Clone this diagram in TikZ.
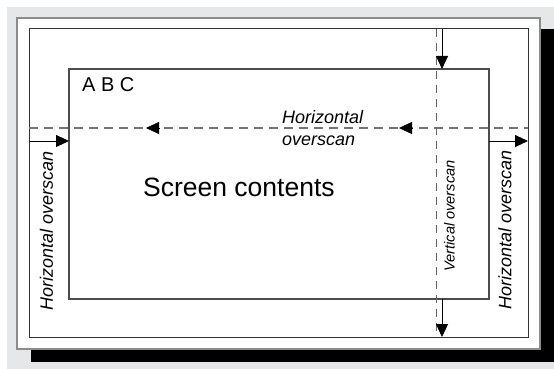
\documentclass[tikz,border=0pt]{standalone}
\usepackage{fontspec}
\setmainfont{Liberation Sans}
\usetikzlibrary{arrows.meta}
\definecolor{bggray}{HTML}{E6E7E8}
\begin{document}
\begin{tikzpicture}[x=1pt,y=-1pt,
  pageframe/.style={draw=black!45, fill=white, line width=1.4pt},
  monframe/.style={draw=black!80, line width=1pt},
  screenbox/.style={draw=black!70, line width=1.1pt},
  dashline/.style={draw=black!55, line width=1.3pt, dash pattern=on 9pt off 6pt},
  vdashline/.style={draw=black!60, line width=1pt, dash pattern=on 8pt off 6pt},
  arr/.style={-{Triangle[length=13pt,width=12pt]}, line width=0.9pt, black},
  midarr/.style={-{Triangle[length=13pt,width=12pt]}, line width=0.5pt, black},
  lbl/.style={font=\fontsize{18}{22}\selectfont\itshape, inner sep=0pt},
  vlbl/.style={font=\fontsize{14.6}{17}\selectfont\itshape, inner sep=0pt}]
\useasboundingbox (0,0) rectangle (554,369);
\fill[bggray] (7,7) rectangle (554,369);
\fill[black] (31,29) rectangle (554,362);
\draw[pageframe] (17,18) rectangle (540,349);
% monitor frame and screen
\coordinate (ftl) at (29,29);
\coordinate (fbr) at (528,337);
\coordinate (stl) at (69,69);
\coordinate (sbr) at (489,299);
\draw[monframe] (ftl) rectangle (fbr);
\draw[screenbox] (stl) rectangle (sbr);
% dashed lines
\coordinate (hdl) at (29,128);
\coordinate (hdr) at (528,128);
\coordinate (vdt) at (436,29);
\coordinate (vdb) at (436,337);
\draw[dashline] (hdl) -- (hdr);
\draw[vdashline] (vdt) -- (vdb);
% arrows on dashed line
\coordinate (ma1s) at (160,128);
\coordinate (ma1e) at (146,128);
\coordinate (ma2s) at (413,128);
\coordinate (ma2e) at (399,128);
\draw[midarr] (ma1s) -- (ma1e);
\draw[midarr] (ma2s) -- (ma2e);
% vertical overscan arrows
\coordinate (vt1) at (442,29);
\coordinate (vt2) at (442,69);
\coordinate (vb1) at (442,299);
\coordinate (vb2) at (442,337);
\draw[arr] (vt1) -- (vt2);
\draw[arr] (vb1) -- (vb2);
% horizontal overscan arrows
\coordinate (hl1) at (29,141);
\coordinate (hl2) at (69,141);
\coordinate (hr1) at (489,141);
\coordinate (hr2) at (528,141);
\draw[arr] (hl1) -- (hl2);
\draw[arr] (hr1) -- (hr2);
% texts
\node[anchor=base west, inner sep=0pt, font=\fontsize{20}{24}\selectfont] (abc) at (82,92) {A B C};
\node[anchor=base west, inner sep=0pt, font=\fontsize{26.5}{30}\selectfont] (sc) at (143,196) {Screen contents};
\node[lbl, anchor=base west] (hm1) at (282,123) {Horizontal};
\node[lbl, anchor=base west] (hm2) at (282,145) {overscan};
\node[lbl, rotate=90] (hleft) at (46.5,231) {Horizontal overscan};
\node[lbl, rotate=90] (hright) at (505,230) {Horizontal overscan};
\node[vlbl, rotate=90] (vlab) at (449.5,216) {Vertical overscan};
\end{tikzpicture}
\end{document}
